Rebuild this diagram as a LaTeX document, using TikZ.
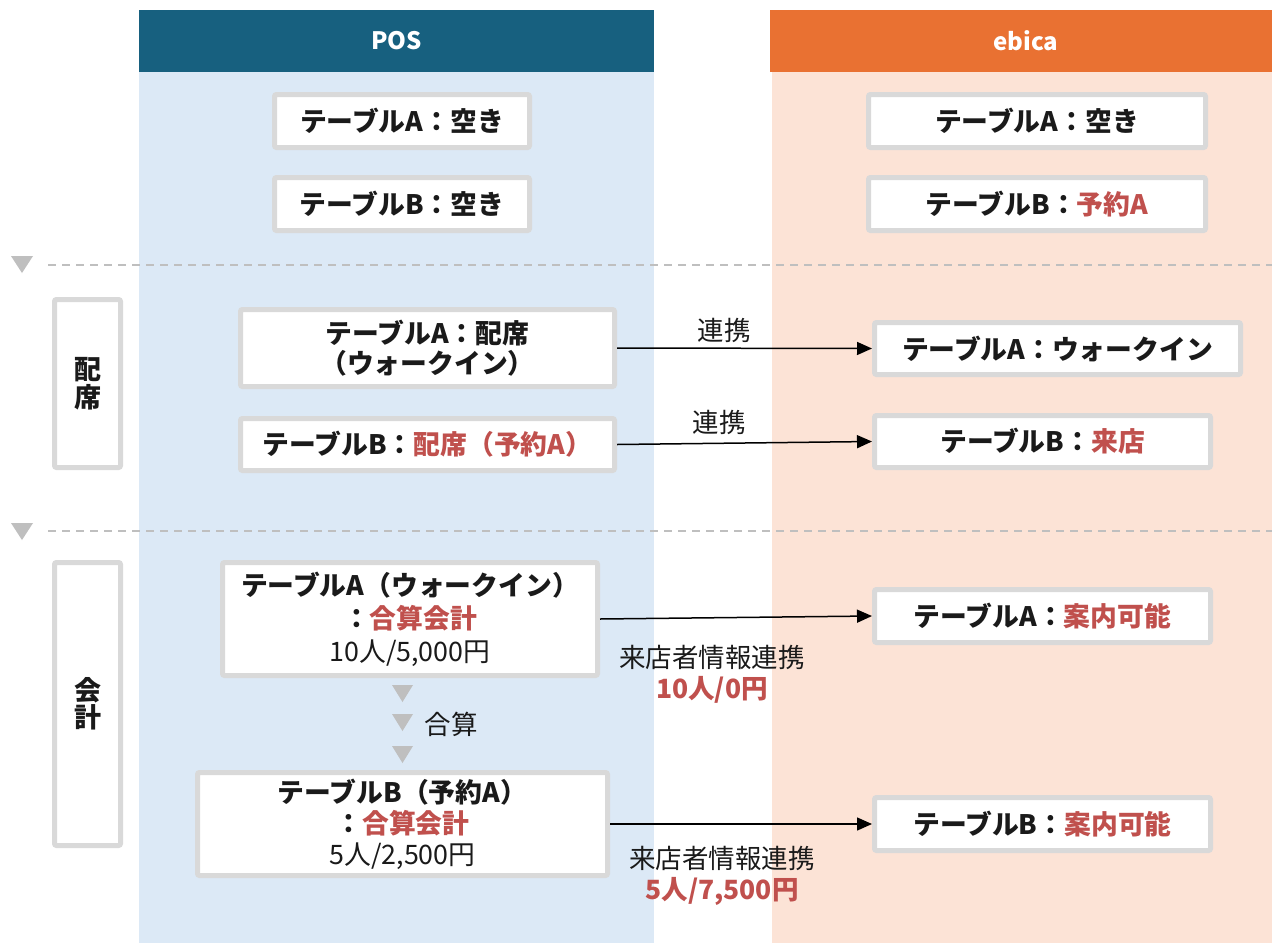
\documentclass[tikz,border=0pt]{standalone}
\usepackage{fontspec}
\setmainfont{Noto Sans CJK JP}
\usetikzlibrary{arrows.meta}
\definecolor{posblue}{HTML}{17607F}
\definecolor{posbg}{HTML}{DCE9F6}
\definecolor{ebor}{HTML}{E97132}
\definecolor{ebbg}{HTML}{FCE3D6}
\definecolor{boxgray}{HTML}{D9D9D9}
\definecolor{txt}{HTML}{1A1A1A}
\definecolor{accent}{HTML}{C0504D}
\definecolor{dashgray}{HTML}{BFBFBF}
\newcommand{\hl}[1]{\textcolor{accent}{#1}}
\tikzset{
  tbox/.style={draw=boxgray, line width=5pt, fill=white, rounded corners=2pt,
    inner sep=0pt, text=txt, align=center,
    font=\bfseries\fontsize{26.8}{32}\selectfont},
  hdr/.style={text=white, font=\bfseries\fontsize{24}{28}\selectfont},
  lbl/.style={text=txt, align=center, font=\fontsize{26.5}{31}\selectfont},
  sep/.style={draw=dashgray, line width=2pt, dash pattern=on 8pt off 6pt},
  tri/.style={fill=dashgray},
  link/.style={draw=black, line width=1.5pt, -{Triangle[length=15pt,width=13pt]}},
}
\begin{document}
\begin{tikzpicture}[x=1pt,y=-1pt]
\useasboundingbox (0,0) rectangle (1272,943);
\fill[white] (0,0) rectangle (1272,943);
% columns
\fill[posbg] (139,72) rectangle (654,943);
\fill[posblue] (139,10) rectangle (654,72);
\fill[ebbg] (772,72) rectangle (1272,943);
\fill[ebor] (770,10) rectangle (1272,72);
\node[hdr] (hpos) at (396.5,41) {POS};
\node[hdr] (heb) at (1026,41) {ebica};
% separators
\draw[sep] (48,265) -- (1272,265);
\draw[sep] (48,531) -- (1272,531);
\fill[tri] (11,256) -- (33,256) -- (22,273) -- cycle;
\fill[tri] (11,523) -- (33,523) -- (22,540) -- cycle;
% section labels
\node[tbox, minimum width=66pt, minimum height=168pt, font=\bfseries\fontsize{27}{27.5}\selectfont] (s1) at (87.5,383.5) {配\\席};
\node[tbox, minimum width=66pt, minimum height=283pt, font=\bfseries\fontsize{27}{27.5}\selectfont] (s2) at (87.5,704) {会\\計};
% initial state
\node[tbox, minimum width=255pt, minimum height=53pt] (pa1) at (402,121) {テーブルA：空き};
\node[tbox, minimum width=255pt, minimum height=53pt] (pb1) at (402,204) {テーブルB：空き};
\node[tbox, minimum width=337pt, minimum height=53pt] (ea1) at (1037,121) {テーブルA：空き};
\node[tbox, minimum width=337pt, minimum height=53pt] (eb1) at (1037,204) {テーブルB：\hl{予約A}};
% seating
\node[tbox, minimum width=374pt, minimum height=77pt, font=\bfseries\fontsize{26.8}{30}\selectfont] (pa2) at (427.5,348) {テーブルA：配席\\（ウォークイン）};
\node[tbox, minimum width=374pt, minimum height=52pt] (pb2) at (427.5,444.5) {テーブルB：\hl{配席（予約A）}};
\node[tbox, minimum width=366pt, minimum height=52pt] (ea2) at (1057.5,348.5) {テーブルA：ウォークイン};
\node[tbox, minimum width=336pt, minimum height=52pt] (eb2) at (1042.5,441.5) {テーブルB：\hl{来店}};
\draw[link] (pa2.east) -- (ea2.west) node[lbl, pos=0.42, above=1pt] (l1) {連携};
\draw[link] (pb2.east) -- (eb2.west) node[lbl, pos=0.4, above=5pt] (l2) {連携};
% checkout
\node[tbox, minimum width=375pt, minimum height=113pt, font=\bfseries\fontsize{26.8}{33}\selectfont] (pa3) at (410,619) {テーブルA（ウォークイン）\\：\hl{合算会計}\\{\mdseries 10人/5,000円}};
\node[tbox, minimum width=410pt, minimum height=103pt, font=\bfseries\fontsize{26.8}{31}\selectfont] (pb3) at (402.5,824) {テーブルB（予約A）\\：\hl{合算会計}\\{\mdseries 5人/2,500円}};
\node[tbox, minimum width=336pt, minimum height=53pt] (ea3) at (1042.5,616) {テーブルA：\hl{案内可能}};
\node[tbox, minimum width=336pt, minimum height=53pt] (eb3) at (1042.5,824) {テーブルB：\hl{案内可能}};
\draw[link] (pa3.east) -- (ea3.west);
\draw[link] (pb3.east) -- (eb3.west);
\node[lbl] (l3) at (712,674) {来店者情報連携\\\textbf{\hl{10人/0円}}};
\node[lbl] (l4) at (722,876) {来店者情報連携\\\textbf{\hl{5人/7,500円}}};
% merge indicator
\fill[tri] (392,685) -- (413,685) -- (402.5,702) -- cycle;
\fill[tri] (392,714) -- (413,714) -- (402.5,731) -- cycle;
\fill[tri] (392,746) -- (413,746) -- (402.5,763) -- cycle;
\node[lbl] (gs) at (451,724) {合算};
\end{tikzpicture}
\end{document}
